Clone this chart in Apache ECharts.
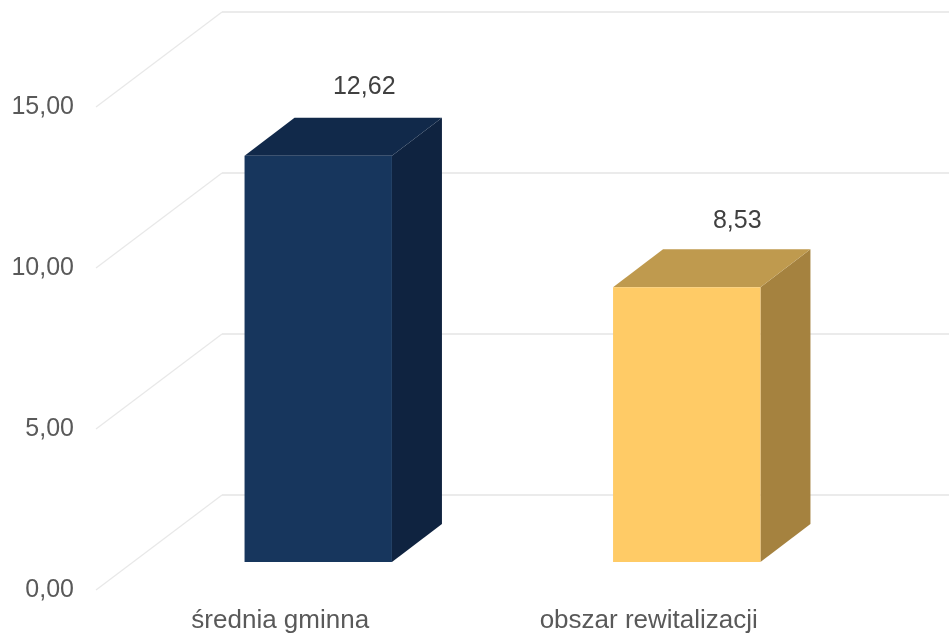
<!DOCTYPE html>
<html>
<head>
<meta charset="utf-8">
<style>html,body{margin:0;padding:0;background:#fff}#c{width:949px;height:634px}</style>
<script src="https://cdn.jsdelivr.net/npm/echarts@6/dist/echarts.min.js"></script>
</head>
<body>
<div id="c"></div>
<script>
var categories = ['średnia gminna', 'obszar rewitalizacji'];
var values = [12.62, 8.53];
var yTicks = [0, 5, 10, 15];
var frontColors = ['#17365d', '#ffcb66'];
var topColors = ['#11294a', '#bf9a4e'];
var sideColors = ['#0f2340', '#a5823f'];

function fmt(v) { return v.toFixed(2).replace('.', ','); }

var chart = echarts.init(document.getElementById('c'), null, { renderer: 'canvas' });

function renderWall(params, api) {
  var p = api.coord([0, api.value(1)]);
  var x0 = params.coordSys.x;
  var y0 = p[1];
  var bx = x0 + 126, by = y0 - 95;
  return {
    type: 'group',
    silent: true,
    children: [
      { type: 'line', shape: { x1: x0, y1: y0, x2: bx, y2: by }, style: { stroke: '#e8e8e8', lineWidth: 1.2 } },
      { type: 'line', shape: { x1: bx, y1: by, x2: 949, y2: by }, style: { stroke: '#e4e4e4', lineWidth: 1.6 } }
    ]
  };
}

function renderBar(params, api) {
  var i = api.value(0), v = api.value(1);
  var base = api.coord([i, 0]);
  var top = api.coord([i, v]);
  var w = api.size([1, 0])[0] * 0.4;
  var ox = 38, oy = -28, dx = 50, dy = -38;
  var l = base[0] + ox - w / 2, r = l + w;
  var b = base[1] + oy, t = top[1] + oy;
  // label placement relative to the bar's front face
  var labelDx = i === 0 ? 46 : 50.5;
  var labelDy = i === 0 ? -69 : -66;
  return {
    type: 'group',
    silent: true,
    children: [
      { type: 'polygon', shape: { points: [[r, t], [r + dx, t + dy], [r + dx, b + dy], [r, b]] }, style: { fill: sideColors[i] } },
      { type: 'polygon', shape: { points: [[l, t], [l + dx, t + dy], [r + dx, t + dy], [r, t]] }, style: { fill: topColors[i] } },
      { type: 'rect', shape: { x: l, y: t, width: w, height: b - t }, style: { fill: frontColors[i] } },
      { type: 'text', style: {
          x: (l + r) / 2 + labelDx, y: t + labelDy,
          text: fmt(v), align: 'center', verticalAlign: 'middle',
          fontFamily: '"Liberation Sans"', fontSize: 25, fill: '#404040'
      } }
    ]
  };
}

chart.setOption({
  animation: false,
  backgroundColor: '#ffffff',
  grid: { left: 96, right: 116, top: 107, bottom: 44, containLabel: false },
  xAxis: {
    type: 'category',
    data: categories,
    axisLine: { show: false },
    axisTick: { show: false },
    splitLine: { show: false },
    axisLabel: { margin: 18, color: '#595959', fontSize: 26, fontFamily: '"Liberation Sans"', interval: 0 }
  },
  yAxis: {
    type: 'value',
    min: 0,
    max: 15,
    interval: 5,
    axisLine: { show: false },
    axisTick: { show: false },
    splitLine: { show: false },
    axisLabel: { margin: 22, color: '#595959', fontSize: 25, fontFamily: '"Liberation Sans"', padding: [4, 0, 0, 0], formatter: fmt }
  },
  series: [
    {
      type: 'custom',
      name: 'walls',
      clip: false,
      z: 1,
      renderItem: renderWall,
      encode: { x: 0, y: 1 },
      data: yTicks.map(function (t) { return [0, t]; })
    },
    {
      type: 'custom',
      name: 'bars',
      clip: false,
      z: 2,
      renderItem: renderBar,
      encode: { x: 0, y: 1 },
      data: values.map(function (v, i) { return [i, v]; })
    }
  ]
});
</script>
</body>
</html>
